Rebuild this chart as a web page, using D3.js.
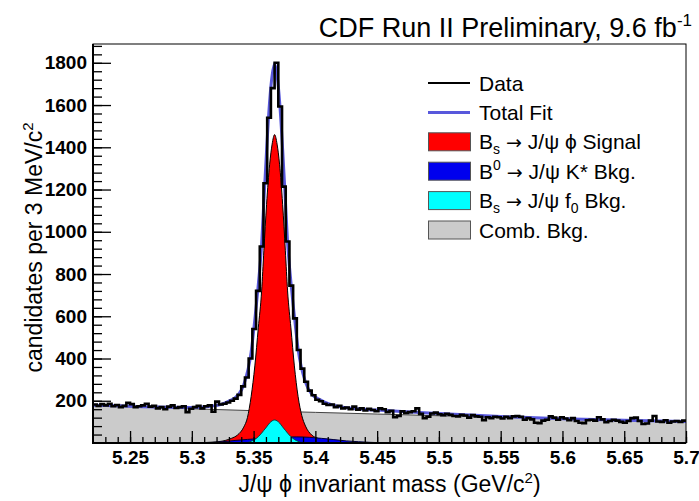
<!DOCTYPE html>
<html><head><meta charset="utf-8">
<script src="https://cdn.jsdelivr.net/npm/d3@7"></script>
<style>
body{margin:0;background:#fff}
svg{display:block}
text{font-family:"Liberation Sans",Arial,Helvetica,sans-serif;fill:#000}
</style>
</head><body>
<svg id="chart" width="699" height="501"></svg>
<script>
// ---------------- data ----------------
const massLow = 5.22, massHigh = 5.70, binWidth = 0.003;
const yMax = 1889;
const counts = [
 182,176,184,178,186,174,180,170,176,190,
 184,170,174,178,186,172,176,164,170,160,
 172,178,166,170,174,146,162,170,176,164,
 174,178,148,196,182,186,192,200,
 210,228,268,310,400,540,720,930,1230,1540,
 1680,1800,1593,1214,954,745,590,440,352,290,
 248,226,205,198,186,180,
 182,170,176,164,168,160,172,158,164,154,
 162,156,150,164,160,146,152,122,128,150,
 142,146,150,164,138,118,124,140,144,136,
 132,138,134,128,126,134,130,120,132,126,
 124,108,122,118,124,122,116,124,118,126,
 128,124,110,118,112,96,94,106,110,126,
 120,110,122,116,108,118,104,96,94,108,
 110,106,122,112,98,104,110,106,100,96,
 104,118,120,104,90,92,106,128,102,100,
 108,96,102,104,100,106
];
const fitMass = [5.22,5.24,5.26,5.28,5.30,5.31,5.32,5.325,5.330,5.337,5.342,5.348,5.351,5.3538,5.3565,5.3583,5.3605,5.363,5.365,5.367,
                 5.369,5.371,5.3735,5.3757,5.3775,5.3802,5.383,5.386,5.392,5.397,5.404,5.41,5.42,5.43,5.45,5.47,5.50,5.55,5.60,5.65,5.70];
const fitVal  = [179,176,172,169,168,170,178,185,198,225,275,430,585,750,940,1145,1385,1620,1740,1795,
                 1740,1620,1390,1150,950,762,600,445,288,232,205,188,172,164,156,149,140,125,115,108,102];
const combMass = [5.22,5.25,5.30,5.35,5.40,5.45,5.50,5.55,5.60,5.65,5.70];
const combVal  = [176,171,162,153,145,137,129,121,114,107,101];
const sigMass = [5.297,5.317,5.327,5.332,5.337,5.342,5.345,5.348,5.351,5.3538,5.3565,5.3583,5.3605,5.363,5.365,5.367,
                 5.369,5.371,5.3735,5.3757,5.3775,5.3802,5.383,5.386,5.389,5.392,5.397,5.402,5.407,5.417,5.437];
const sigVal  = [0,4,12,22,38,75,120,220,365,545,720,910,1130,1320,1415,1460,
                 1415,1320,1130,910,720,545,365,220,130,80,38,22,12,4,0];
const kstMass = [5.305,5.315,5.325,5.335,5.345,5.355,5.365,5.375,5.385,5.395,5.405,5.415,5.425,5.435,5.445,5.455,5.465];
const kstVal  = [0,2,6,12,17,21,25,28,29,27,22,16,10,6,3,1,0];
const f0Mass = [5.341,5.345,5.348,5.351,5.3538,5.3565,5.3583,5.3605,5.363,5.365,5.367,5.369,5.371,5.3735,5.3757,5.3775,5.3802,5.383,5.386,5.389,5.393];
const f0Val  = [0,2,8,17,30,47,60,76,95,105,109,105,95,76,60,47,30,17,8,2,0];
const xTickValues = [5.25,5.30,5.35,5.40,5.45,5.50,5.55,5.60,5.65,5.70];
const xTickLabels = ["5.25","5.3","5.35","5.4","5.45","5.5","5.55","5.6","5.65","5.7"];
const yTickValues = [200,400,600,800,1000,1200,1400,1600,1800];
const yTickLabels = ["200","400","600","800","1000","1200","1400","1600","1800"];

// ---------------- layout ----------------
const L = 93, R = 686, T = 44, B = 443;
const svg = d3.select("#chart");
const x = d3.scaleLinear().domain([massLow, massHigh]).range([L, R]);
const y = d3.scaleLinear().domain([0, yMax]).range([B, T]);

svg.append("defs").append("clipPath").attr("id","plotclip")
  .append("rect").attr("x",L).attr("y",T).attr("width",R-L).attr("height",B-T);
const g = svg.append("g").attr("clip-path","url(#plotclip)");

const zip = (a,b) => a.map((v,i)=>[v,b[i]]);
const area = d3.area().x(d=>x(d[0])).y0(y(0)).y1(d=>y(d[1])).curve(d3.curveMonotoneX);
const line = d3.line().x(d=>x(d[0])).y(d=>y(d[1])).curve(d3.curveMonotoneX);

// combinatorial background
g.append("path").datum(zip(combMass,combVal)).attr("d",area).attr("fill","#cbcbcb");
g.append("path").datum(zip(combMass,combVal)).attr("d",line).attr("fill","none").attr("stroke","#444").attr("stroke-width",1);
// signal
g.append("path").datum(zip(sigMass,sigVal)).attr("d",area).attr("fill","#ff0000").attr("stroke","#000").attr("stroke-width",1);
// B0 -> J/psi K*
g.append("path").datum(zip(kstMass,kstVal)).attr("d",area).attr("fill","#0000ee").attr("stroke","#000033").attr("stroke-width",1);
// Bs -> J/psi f0
g.append("path").datum(zip(f0Mass,f0Val)).attr("d",area).attr("fill","#00ffff").attr("stroke","#004444").attr("stroke-width",1);
// total fit
g.append("path").datum(zip(fitMass,fitVal)).attr("d",line).attr("fill","none").attr("stroke","#5858dc").attr("stroke-width",3);
// data histogram
const histPts = [];
counts.forEach((c,i)=>{ const m0 = massLow + i*binWidth; histPts.push([m0,c],[m0+binWidth,c]); });
g.append("path").datum(histPts)
  .attr("d", d3.line().x(d=>x(d[0])).y(d=>y(d[1])))
  .attr("fill","none").attr("stroke","#000").attr("stroke-width",2.6).attr("stroke-linejoin","miter");

// ---------------- axes ----------------
const xMinor = d3.range(0, 49).map(i => +(massLow + 0.01*i).toFixed(2)).filter(v => v > massLow && v <= massHigh);
const yMinor = d3.range(40, yMax, 40);

const xAx = svg.append("g").attr("transform",`translate(0,${B})`)
  .call(d3.axisBottom(x).tickValues(xMinor).tickSizeInner(-6).tickSizeOuter(0).tickFormat(""));
const xAxMaj = svg.append("g").attr("transform",`translate(0,${B})`)
  .call(d3.axisBottom(x).tickValues(xTickValues).tickSizeInner(-12).tickSizeOuter(0).tickPadding(8)
        .tickFormat((d,i)=>xTickLabels[i]));
const yAx = svg.append("g").attr("transform",`translate(${L},0)`)
  .call(d3.axisLeft(y).tickValues(yMinor).tickSizeInner(-9).tickSizeOuter(0).tickFormat(""));
const yAxMaj = svg.append("g").attr("transform",`translate(${L},0)`)
  .call(d3.axisLeft(y).tickValues(yTickValues).tickSizeInner(-18).tickSizeOuter(0).tickPadding(6)
        .tickFormat((d,i)=>yTickLabels[i]));
[xAx,xAxMaj,yAx,yAxMaj].forEach(a=>{
  a.select(".domain").remove();
  a.selectAll(".tick line").attr("stroke","#000").attr("stroke-width",1.3);
});
[xAxMaj,yAxMaj].forEach(a=>a.selectAll(".tick text")
  .style("font-family",'"Liberation Sans",Arial,sans-serif').style("font-size","19px").style("font-weight","bold").attr("fill","#000"));

// frame
svg.append("rect").attr("x",L).attr("y",T).attr("width",R-L).attr("height",B-T)
  .attr("fill","none").attr("stroke","#000").attr("stroke-width",1);
svg.append("line").attr("x1",L).attr("x2",L).attr("y1",T).attr("y2",B+1).attr("stroke","#000").attr("stroke-width",2);
svg.append("line").attr("x1",L-1).attr("x2",R).attr("y1",B).attr("y2",B).attr("stroke","#000").attr("stroke-width",2);

// ---------------- titles ----------------
const title = svg.append("text").attr("x",692).attr("y",37).attr("text-anchor","end").style("font-size","27px");
title.append("tspan").text("CDF Run II Preliminary, 9.6 fb");
title.append("tspan").attr("dy",-11).style("font-size","17px").text("-1");

const xt = svg.append("text").attr("x",(L+R)/2).attr("y",492).attr("text-anchor","middle").style("font-size","23px");
xt.append("tspan").text("J/ψ ϕ invariant mass (GeV/c");
xt.append("tspan").attr("dy",-9).style("font-size","15px").text("2");
xt.append("tspan").attr("dy",9).text(")");

const yt = svg.append("text").attr("transform",`translate(42,${(T+B)/2+4}) rotate(-90)`).attr("text-anchor","middle").style("font-size","23px");
yt.append("tspan").text("candidates per 3 MeV/c");
yt.append("tspan").attr("dy",-9).style("font-size","15px").text("2");

// ---------------- legend ----------------
const legX = 428, legW = 42, legTextX = 479, legY0 = 83, legDY = 29.4, legFont = 21;
const leg = svg.append("g");
function legText(row, parts){
  const t = leg.append("text").attr("x",legTextX).attr("y",legY0+row*legDY+7.5).style("font-size",legFont+"px");
  parts.forEach(p=>{
    const s = t.append("tspan").text(p.t);
    if(p.sub){ s.attr("dy",5).style("font-size","14px"); }
    else if(p.sup){ s.attr("dy",-9).style("font-size","14px"); }
    if(p.back) s.attr("dy",p.back);
    if(p.arrow) s.style("font-family","'DejaVu Sans',sans-serif").style("font-size","19px");
  });
}
leg.append("line").attr("x1",legX).attr("x2",legX+legW).attr("y1",legY0).attr("y2",legY0).attr("stroke","#000").attr("stroke-width",2);
legText(0,[{t:"Data"}]);
leg.append("line").attr("x1",legX).attr("x2",legX+legW).attr("y1",legY0+legDY).attr("y2",legY0+legDY).attr("stroke","#5858dc").attr("stroke-width",3);
legText(1,[{t:"Total Fit"}]);
const boxColors = ["#ff0000","#0000ee","#00ffff","#cbcbcb"];
boxColors.forEach((c,i)=>{
  const cy = legY0 + (i+2)*legDY;
  leg.append("rect").attr("x",legX+0.5).attr("y",cy-9).attr("width",legW).attr("height",18)
    .attr("fill",c).attr("stroke","#555").attr("stroke-width",1);
});
legText(2,[{t:"B"},{t:"s",sub:true},{t:" →",back:-5,arrow:true},{t:" J/ψ ϕ Signal"}]);
legText(3,[{t:"B"},{t:"0",sup:true},{t:" →",back:9,arrow:true},{t:" J/ψ K* Bkg."}]);
legText(4,[{t:"B"},{t:"s",sub:true},{t:" →",back:-5,arrow:true},{t:" J/ψ f"},{t:"0",sub:true},{t:" Bkg.",back:-5}]);
legText(5,[{t:"Comb. Bkg."}]);
</script>
</body></html>
